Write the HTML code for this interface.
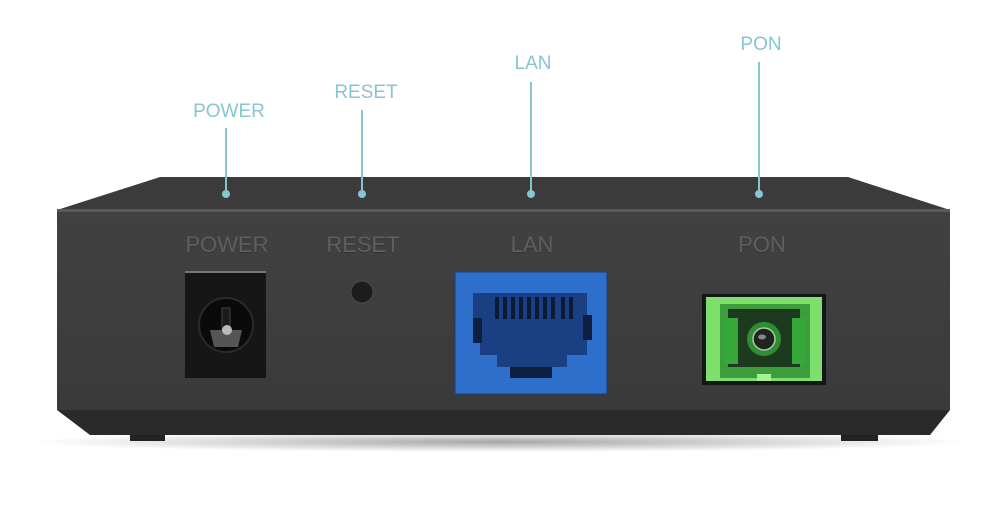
<!DOCTYPE html>
<html><head><style>
body{margin:0;width:994px;height:508px;background:#fff;position:relative;overflow:hidden;font-family:"Liberation Sans",sans-serif}
.a{position:absolute}
.lab{position:absolute;color:#86c6d2;font-size:19px;transform:translateX(-50%);letter-spacing:0}
.ln{position:absolute;width:2px;background:#86c6d2}
.dot{position:absolute;width:8px;height:8px;border-radius:50%;background:#86c6d2}
.emb{position:absolute;color:#5f5f5f;font-size:22px;transform:translateX(-50%);text-shadow:0 1px 0 #333}
</style></head><body>
<svg class="a" style="left:0;top:0" width="994" height="508">
<defs>
<linearGradient id="fr" x1="0" y1="0" x2="0" y2="1"><stop offset="0" stop-color="#414141"/><stop offset="1" stop-color="#3a3a3a"/></linearGradient>
<radialGradient id="sh" cx="0.5" cy="0.5" r="0.5"><stop offset="0" stop-color="#000" stop-opacity=".35"/><stop offset="1" stop-color="#000" stop-opacity="0"/></radialGradient>
</defs>
<ellipse cx="500" cy="442" rx="470" ry="10" fill="url(#sh)"/>
<polygon points="160,177 848,177 950,210 57,210" fill="#3b3b3b"/>
<rect x="57" y="209" width="893" height="3" fill="#5a5a5a"/>
<rect x="57" y="212" width="893" height="198" fill="url(#fr)"/>
<polygon points="57,410 950,410 930,435 90,435" fill="#2a2a2a"/>
<rect x="130" y="435" width="35" height="6" fill="#222"/>
<rect x="841" y="435" width="37" height="6" fill="#222"/>
<rect x="185" y="272" width="81" height="106" fill="#161616"/>
<rect x="185" y="271" width="81" height="2" fill="#777"/>
<circle cx="226" cy="325" r="27" fill="#0a0a0a" stroke="#2a2a2a" stroke-width="2"/>
<path d="M210 330 L242 330 L238 347 L214 347 Z" fill="#555"/>
<rect x="222" y="308" width="8" height="24" fill="#1a1a1a" stroke="#444"/>
<circle cx="227" cy="330" r="5" fill="#bbb"/>
<circle cx="362" cy="292" r="11" fill="#1c1c1c" stroke="#4a4a4a"/>
<rect x="455" y="272" width="152" height="122" fill="#2f6fcc" stroke="#1c3d77" stroke-width="1"/>
<path d="M473 293 H587 V315 H592 V340 H587 V355 H567 V367 H552 V378 H510 V367 H497 V355 H480 V340 H473 Z" fill="#1a3f82"/>
<rect x="473" y="318" width="9" height="25" fill="#0e1f40"/>
<rect x="583" y="315" width="9" height="25" fill="#0e1f40"/>
<g fill="#0a1a38">
<rect x="495" y="297" width="4" height="22"/><rect x="503" y="297" width="4" height="22"/><rect x="511" y="297" width="4" height="22"/><rect x="519" y="297" width="4" height="22"/><rect x="527" y="297" width="4" height="22"/><rect x="535" y="297" width="4" height="22"/><rect x="543" y="297" width="4" height="22"/><rect x="551" y="297" width="4" height="22"/><rect x="561" y="297" width="4" height="22"/><rect x="569" y="297" width="4" height="22"/>
</g>
<rect x="510" y="367" width="42" height="11" fill="#0e1f40"/>
<rect x="702" y="294" width="124" height="91" fill="#151515"/>
<rect x="706" y="297" width="116" height="84" fill="#7ee06c"/>
<rect x="720" y="304" width="90" height="74" fill="#3d9c3c"/>
<rect x="728" y="309" width="72" height="58" fill="#1d3a1e"/>
<rect x="724" y="318" width="14" height="46" fill="#36a83a"/>
<rect x="792" y="318" width="14" height="46" fill="#36a83a"/>
<circle cx="764" cy="339" r="17" fill="#2f8d34"/>
<circle cx="764" cy="339" r="11" fill="#222" stroke="#9ad59a" stroke-width="1.5"/>
<ellipse cx="762" cy="337" rx="4" ry="2.5" fill="#888"/>
<rect x="757" y="374" width="14" height="7" fill="#a8f090"/>
</svg>
<div class="lab" style="left:229px;top:101px">POWER</div>
<div class="lab" style="left:366px;top:82px">RESET</div>
<div class="lab" style="left:533px;top:53px">LAN</div>
<div class="lab" style="left:761px;top:34px">PON</div>
<div class="ln" style="left:225px;top:128px;height:66px"></div><div class="dot" style="left:222px;top:190px"></div>
<div class="ln" style="left:361px;top:110px;height:84px"></div><div class="dot" style="left:358px;top:190px"></div>
<div class="ln" style="left:530px;top:82px;height:112px"></div><div class="dot" style="left:527px;top:190px"></div>
<div class="ln" style="left:758px;top:62px;height:132px"></div><div class="dot" style="left:755px;top:190px"></div>
<div class="emb" style="left:227px;top:232px">POWER</div>
<div class="emb" style="left:363px;top:232px">RESET</div>
<div class="emb" style="left:532px;top:232px">LAN</div>
<div class="emb" style="left:762px;top:232px">PON</div>
</body></html>
